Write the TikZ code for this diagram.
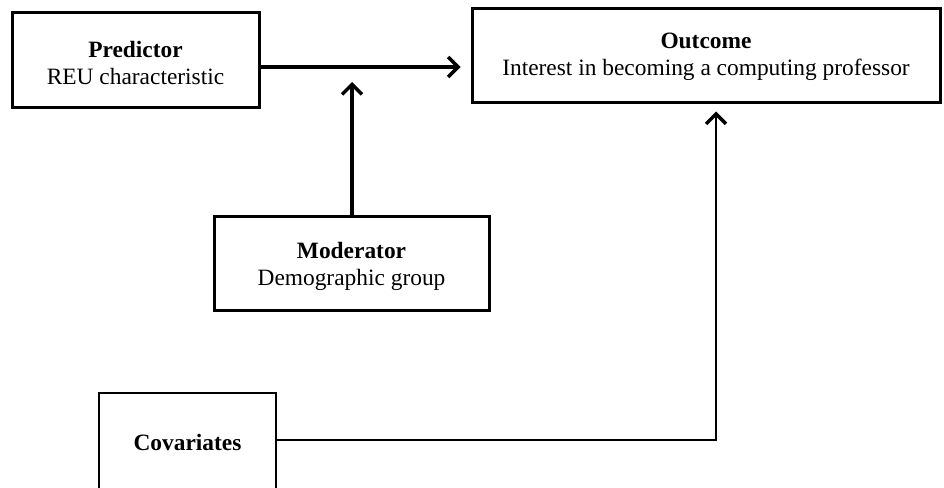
\documentclass[tikz,border=0pt]{standalone}
\usepackage{fontspec}
\setmainfont{Liberation Serif}
\usetikzlibrary{arrows.meta}
\begin{document}
\begin{tikzpicture}[x=1pt,y=1pt,
  box/.style={draw=black, line width=3pt, fill=white, inner sep=0pt},
  txt/.style={align=center, inner sep=0pt, font=\fontsize{23.4}{27}\selectfont},
  arr/.style={line width=3.5pt, -{Straight Barb[length=10pt,width=20pt,line width=3.5pt]}},
]
\useasboundingbox (0,0) rectangle (944,487);
\begin{scope}
\clip (0,0) rectangle (944,487);
\node[box, minimum width=247pt, minimum height=95pt,
  label={[txt, yshift=-3pt]center:\textbf{Predictor}\\REU characteristic}] (pred) at (135.5,426.5) {};
\node[box, minimum width=468pt, minimum height=94pt,
  label={[txt, yshift=-1pt]center:\textbf{Outcome}\\Interest in becoming a computing professor}] (out) at (706,431) {};
\node[box, minimum width=275pt, minimum height=94pt,
  label={[txt, yshift=-2pt]center:\textbf{Moderator}\\Demographic group}] (mod) at (351.5,223) {};
\node[box, line width=2pt, minimum width=177pt, minimum height=97pt,
  label={[txt, yshift=-1pt]center:\textbf{Covariates}}] (cov) at (187.5,45.5) {};
\coordinate (modtip) at (352,405);
\coordinate (corner) at (716,47);
\draw[arr] (pred.east |- 0,420) -- ([xshift=-10pt]out.west |- 0,420);
\draw[arr] (mod.north -| modtip) -- (modtip);
\draw[line width=1.4pt] (cov.east |- corner) -- ([xshift=1pt]corner);
\draw[arr, line width=2.7pt] ([yshift=-0.7pt]corner) -- ([yshift=-7pt]corner |- out.south);
\end{scope}
\end{tikzpicture}
\end{document}
